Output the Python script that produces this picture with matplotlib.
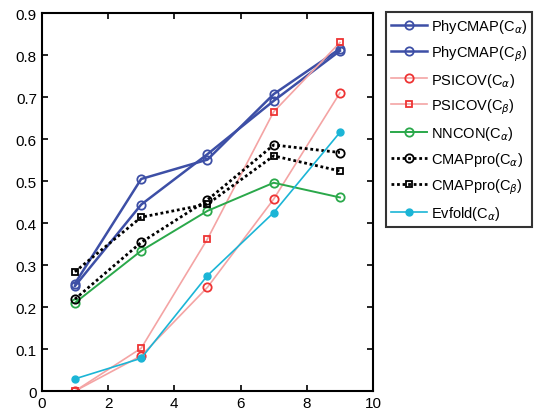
import numpy as np
import matplotlib.pyplot as plt

plt.rcParams['font.family'] = ['Liberation Sans', 'DejaVu Sans']

x = [1, 3, 5, 7, 9]
phy_a = [0.250, 0.444, 0.564, 0.691, 0.810]
phy_b = [0.256, 0.505, 0.551, 0.707, 0.815]
psi_a = [0.000, 0.084, 0.247, 0.457, 0.710]
psi_b = [0.000, 0.102, 0.362, 0.665, 0.830]
nncon_a = [0.210, 0.334, 0.429, 0.496, 0.461]
cmap_a = [0.219, 0.354, 0.455, 0.586, 0.568]
cmap_b = [0.284, 0.414, 0.445, 0.560, 0.524]
evfold_a = [0.029, 0.078, 0.275, 0.425, 0.616]

labels = [r'PhyCMAP(C$_\alpha$)', r'PhyCMAP(C$_\beta$)', r'PSICOV(C$_\alpha$)',
          r'PSICOV(C$_\beta$)', r'NNCON(C$_\alpha$)', r'CMAPpro(C$_\alpha$)',
          r'CMAPpro(C$_\beta$)', r'Evfold(C$_\alpha$)']

fig = plt.figure(figsize=[5.36, 4.14], dpi=100)
ax = fig.add_axes([0.078, 0.053, 0.618, 0.913])

blue = '#3d4fa6'
dots = (0, (1, 1))
ax.plot(x, phy_a, '-o', color=blue, lw=1.8, ms=6, mfc='none', mew=1.3, label=labels[0])
ax.plot(x, phy_b, '-o', color=blue, lw=1.8, ms=6, mfc='none', mew=1.3, label=labels[1])
ax.plot(x, psi_a, '-o', color='#f4a4a4', lw=1.2, ms=6, mfc='none', mec='#ee3333', mew=1.3, label=labels[2])
ax.plot(x, psi_b, '-s', color='#f4a4a4', lw=1.2, ms=5, mfc='none', mec='#ee3333', mew=1.3, label=labels[3])
ax.plot(x, nncon_a, '-o', color='#2aa84a', lw=1.4, ms=6, mfc='none', mew=1.3, label=labels[4])
ax.plot(x, cmap_a, marker='o', ls=dots, color='black', lw=2.0, ms=6, mfc='none', mew=1.3, label=labels[5])
ax.plot(x, cmap_b, marker='s', ls=dots, color='black', lw=2.0, ms=5, mfc='none', mew=1.3, label=labels[6])
ax.plot(x, evfold_a, '-o', color='#1bb5d6', lw=1.2, ms=5, mfc='#1bb5d6', mew=1.0, label=labels[7])

ax.set_xlim(0, 10)
ax.set_ylim(0, 0.9)
ax.set_xticks(np.arange(0, 11, 2))
ax.set_yticks(np.arange(0, 0.91, 0.1))
ax.set_yticklabels(['0', '0.1', '0.2', '0.3', '0.4', '0.5', '0.6', '0.7', '0.8', '0.9'])
ax.tick_params(direction='in', top=True, right=True, labelsize=11, length=4, width=1.2)
for s in ax.spines.values():
    s.set_linewidth(1.5)

leg = fig.legend(loc='upper left', bbox_to_anchor=(0.72, 0.969), borderaxespad=0,
                 fontsize=10.5, frameon=True, fancybox=False, edgecolor='black',
                 handlelength=2.5, labelspacing=0.55, borderpad=0.35, handletextpad=0.25)
leg.get_frame().set_linewidth(1.5)

plt.savefig('out.png', dpi=100)
